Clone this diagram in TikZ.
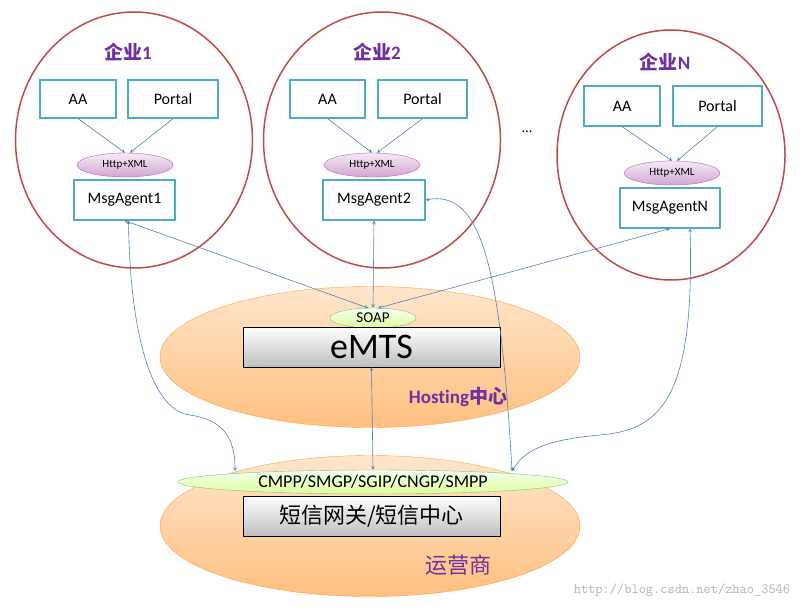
\documentclass[tikz,border=0pt]{standalone}
\usepackage{fontspec}
\setmainfont{Carlito}[Ligatures=NoCommon]
\newfontfamily\cjk{Noto Sans CJK SC}
\usetikzlibrary{arrows,shapes}
\definecolor{ringred}{RGB}{190,75,72}
\definecolor{boxcyan}{RGB}{75,172,198}
\definecolor{linkblue}{RGB}{79,129,189}
\definecolor{titlepurple}{RGB}{112,48,160}
\tikzset{
  company/.style={
    % The shape:
    ellipse,
    % The border:
    line width=1.5pt,draw=ringred,fill=white},
  module/.style={
    rectangle,
    line width=1.2pt,draw=boxcyan,fill=white,
    font=\fontsize{16}{19}\selectfont},
  protocol/.style={
    ellipse,
    draw=violet!60,top color=violet!8,bottom color=violet!35,
    inner sep=0pt,font=\fontsize{11}{13}\selectfont},
  carrier/.style={
    ellipse,
    draw=orange!75,top color=orange!20,bottom color=orange!50},
  wire/.style={
    ellipse,
    draw=green!50!black!50,top color=green!5,bottom color=green!30!yellow!40,
    inner sep=0pt},
  server/.style={
    rectangle,
    draw=black,thick,top color=white,bottom color=black!25},
  title/.style={font=\fontsize{19}{22}\selectfont\bfseries,text=titlepurple},
  link/.style={<->,>=stealth,linkblue,semithick},
  feed/.style={->,>=stealth,linkblue,semithick}
}
\begin{document}
\begin{tikzpicture}[x=1pt,y=-1pt]
  \useasboundingbox (0,0) rectangle (810,610);

  % the three companies
  \node (ent1) [company,minimum width=237pt,minimum height=256pt] at (134,140) {};
  \node (ent2) [company,minimum width=237pt,minimum height=256pt] at (382,140) {};
  \node (entN) [company,minimum width=228pt,minimum height=250pt] at (671,155) {};
  \node (dots) at (527,132) {\Large\dots};

  \node (t1) [title] at (128,52) {{\cjk 企业}1};
  \node (t2) [title] at (377,52) {{\cjk 企业}2};
  \node (tN) [title] at (665,62) {{\cjk 企业}N};

  \node (aa1) [module,minimum width=76pt,minimum height=38pt] at (78,99) {AA};
  \node (po1) [module,minimum width=90pt,minimum height=38pt] at (173,99) {Portal};
  \node (http1) [protocol,minimum width=96pt,minimum height=24pt] at (125,165) {Http+XML};
  \node (ma1) [module,minimum width=101pt,minimum height=40pt] at (124.5,200) {MsgAgent1};

  \node (aa2) [module,minimum width=75pt,minimum height=38pt] at (327.5,99) {AA};
  \node (po2) [module,minimum width=89pt,minimum height=38pt] at (422.5,99) {Portal};
  \node (http2) [protocol,minimum width=96pt,minimum height=24pt] at (372,165) {Http+XML};
  \node (ma2) [module,minimum width=102pt,minimum height=40pt] at (374,200) {MsgAgent2};

  \node (aaN) [module,minimum width=76pt,minimum height=40pt] at (622,106) {AA};
  \node (poN) [module,minimum width=89pt,minimum height=40pt] at (717.5,106) {Portal};
  \node (httpN) [protocol,minimum width=96pt,minimum height=24pt] at (672,173) {Http+XML};
  \node (maN) [module,minimum width=100pt,minimum height=40pt] at (670,208) {MsgAgentN};

  \draw[feed] (aa1.south) -- (http1.north);
  \draw[feed] (po1.south) -- ([xshift=5pt]http1.north);
  \draw[feed] (aa2.south) -- (http2.north);
  \draw[feed] (po2.south) -- ([xshift=5pt]http2.north);
  \draw[feed] (aaN.south) -- (httpN.north);
  \draw[feed] (poN.south) -- ([xshift=5pt]httpN.north);

  % hosting centre
  \node (host) [carrier,minimum width=420pt,minimum height=141pt] at (370,357) {};
  \node (soap) [wire,minimum width=86pt,minimum height=20pt,font=\fontsize{15}{17}\selectfont] at (373,318) {SOAP};
  \node (emts) [server,minimum width=257pt,minimum height=40pt,font=\fontsize{36}{40}\selectfont] at (371.5,347) {eMTS};
  \node (hostlbl) [title] at (458,397) {Hosting{\cjk 中心}};

  % operator
  \node (oper) [carrier,minimum width=420pt,minimum height=141pt] at (370,526) {};
  \node (cmpp) [wire,minimum width=390pt,minimum height=24pt,font=\fontsize{18}{21}\selectfont] at (373,482) {CMPP/SMGP/SGIP/CNGP/SMPP};
  \node (smsc) [server,minimum width=257pt,minimum height=40pt,font=\fontsize{22}{26}\selectfont\cjk] at (371.5,516) {短信网关/短信中心};
  \node (operlbl) [font=\fontsize{22}{26}\selectfont\cjk,text=titlepurple] at (458,565) {运营商};

  \coordinate (soap1) at (368,308);
  \coordinate (soapN) at (378,308);
  \coordinate (cmppL) at (235,471);
  \coordinate (cmppR) at (512,471);
  \draw[link] (ma1.south) -- (soap1);
  \draw[link] (ma2.south) -- (soap.north);
  \draw[link] (maN.south) -- (soapN);
  \draw[link] (emts.south) -- (cmpp.north);
  \draw[link] ([xshift=4pt]ma1.south) .. controls (130,330) and (150,410) .. (190,415)
              .. controls (225,420) and (235,440) .. (cmppL);
  \draw[link] (ma2.east) .. controls (480,190) and (500,260) .. (cmppR);
  \draw[link] ([xshift=20pt]maN.south) .. controls (695,400) and (660,430) .. (600,435)
              .. controls (545,440) and (525,450) .. (cmppR);

  \node (mark) [font=\fontsize{14}{16}\selectfont\ttfamily,text=black!30] at (682,590) {http://blog.csdn.net/zhao\_3546};
\end{tikzpicture}
\end{document}
